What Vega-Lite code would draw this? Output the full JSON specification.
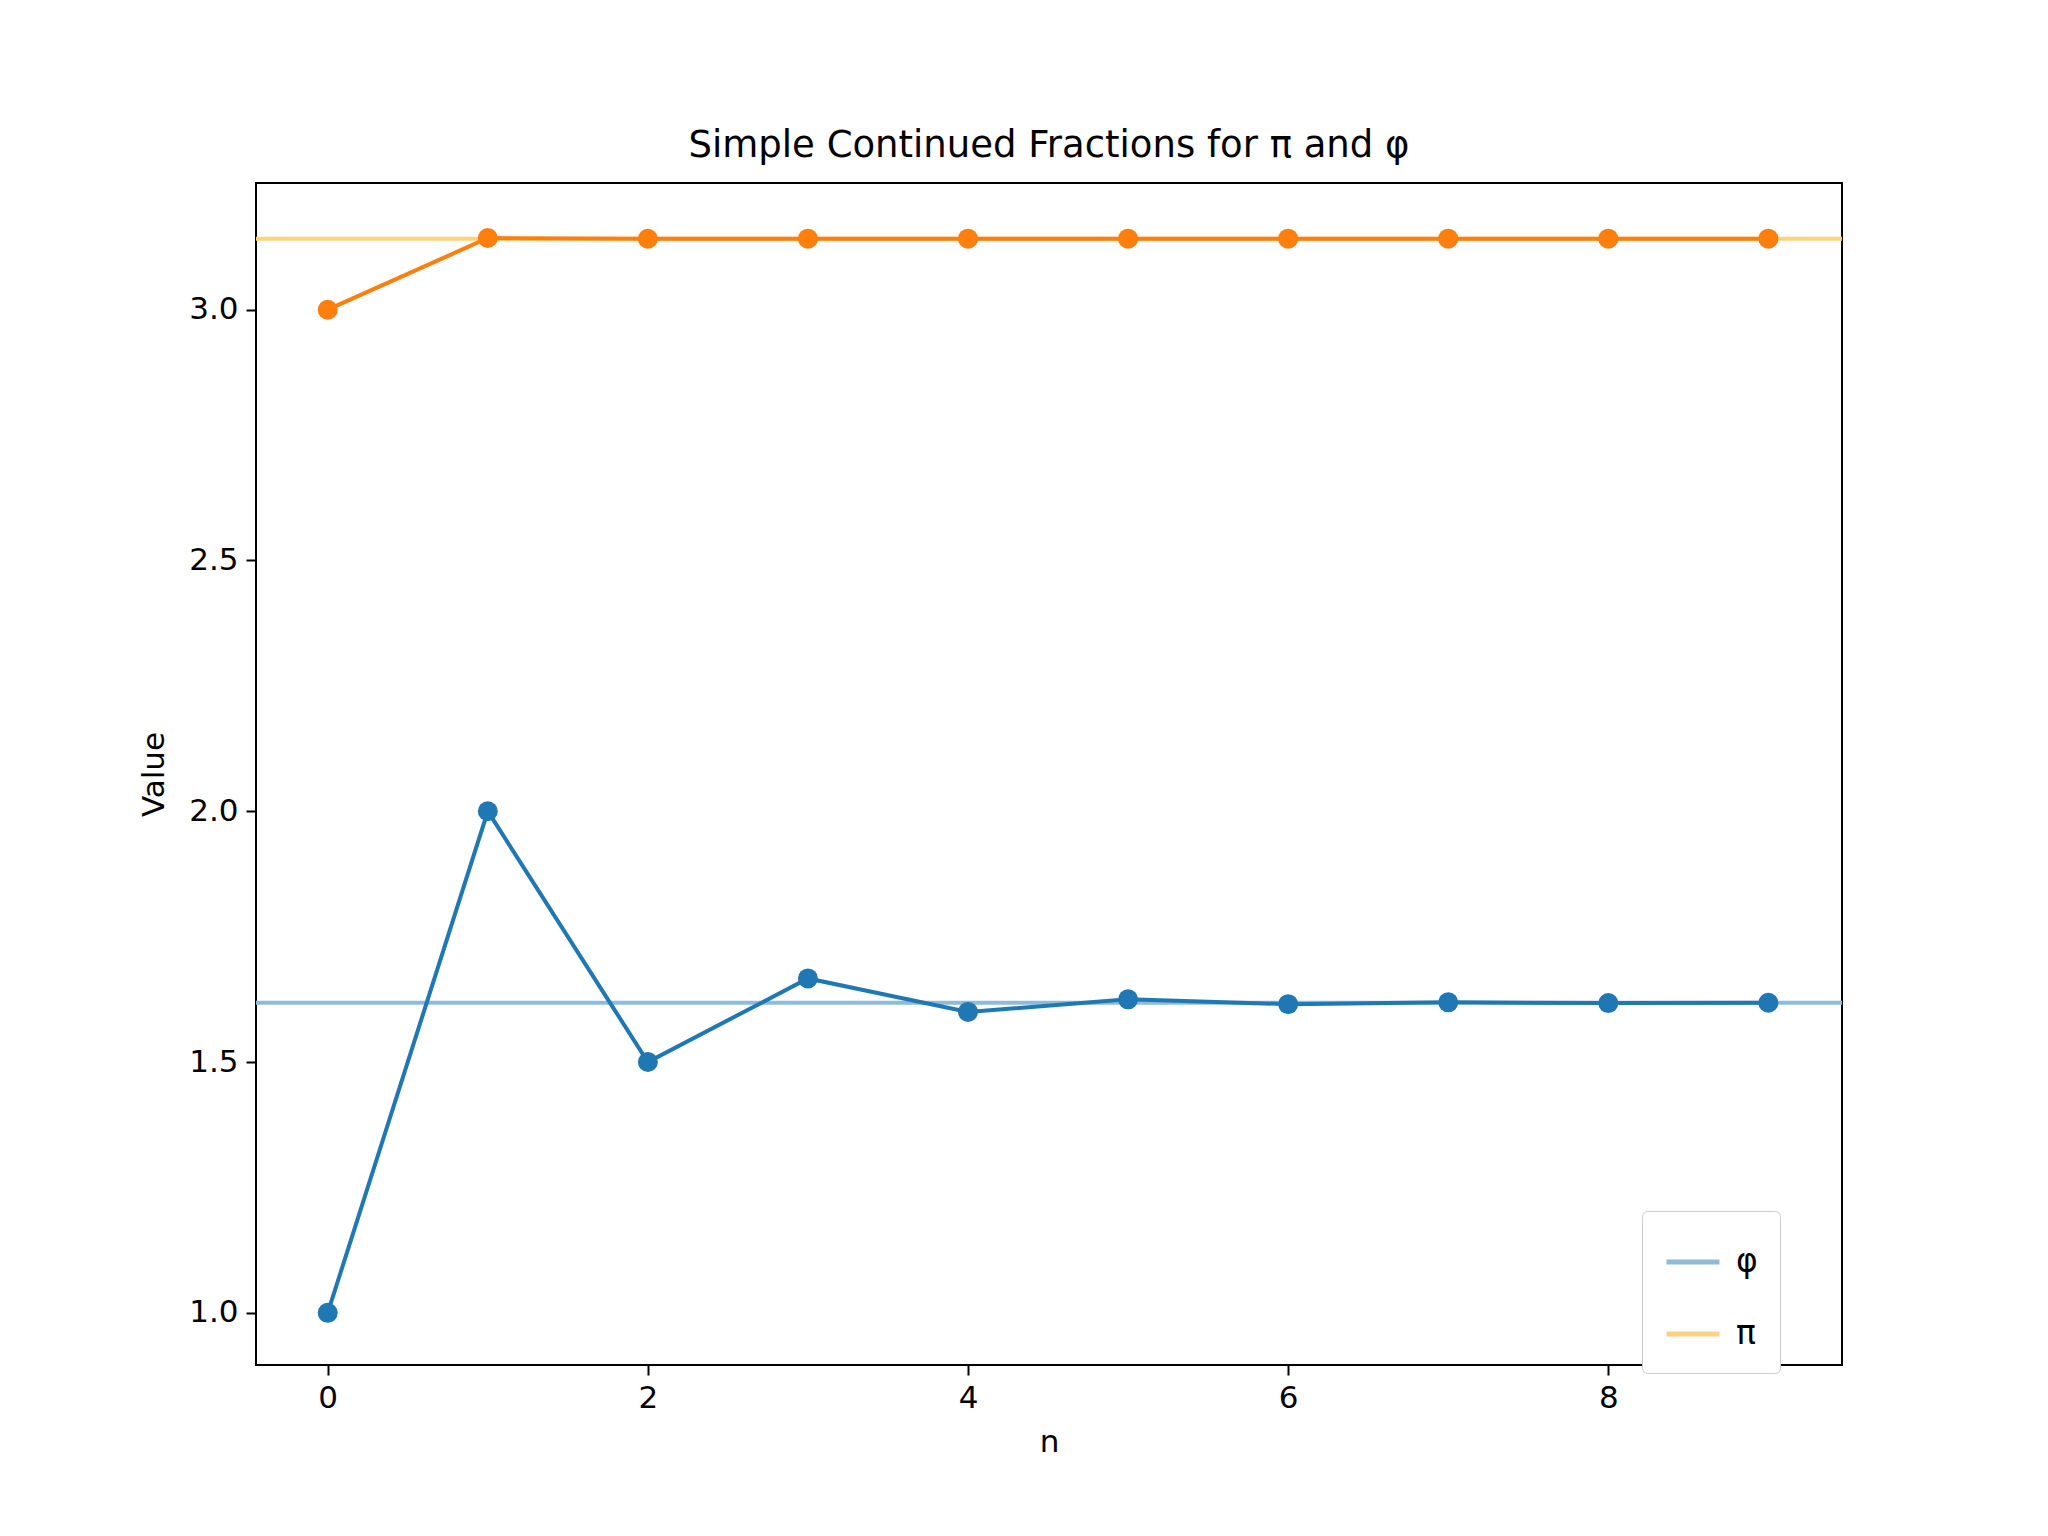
{
  "$schema": "https://vega.github.io/schema/vega-lite/v6.json",
  "autosize": "none",
  "padding": {"left": 256, "top": 183, "right": 206, "bottom": 171},
  "width": 1586,
  "height": 1182,
  "background": "white",
  "config": {
    "font": "DejaVu Sans",
    "view": {"stroke": "black", "strokeWidth": 2},
    "axis": {"grid": false, "domain": false, "tickColor": "black", "tickWidth": 2, "tickSize": 10, "labelFontSize": 31, "labelColor": "black", "titleFontSize": 31, "titleFontWeight": "normal", "titleColor": "black", "labelPadding": 8}
  },
  "title": {"text": "Simple Continued Fractions for π and φ", "fontSize": 37, "fontWeight": "normal", "color": "black", "offset": 18},
  "datasets": {
    "conv": [
      {"n": 0, "series": "phi", "value": 1},
      {"n": 1, "series": "phi", "value": 2},
      {"n": 2, "series": "phi", "value": 1.5},
      {"n": 3, "series": "phi", "value": 1.6667},
      {"n": 4, "series": "phi", "value": 1.6},
      {"n": 5, "series": "phi", "value": 1.625},
      {"n": 6, "series": "phi", "value": 1.6154},
      {"n": 7, "series": "phi", "value": 1.619},
      {"n": 8, "series": "phi", "value": 1.6176},
      {"n": 9, "series": "phi", "value": 1.6182},
      {"n": 0, "series": "pi", "value": 3},
      {"n": 1, "series": "pi", "value": 3.142857},
      {"n": 2, "series": "pi", "value": 3.141509},
      {"n": 3, "series": "pi", "value": 3.141593},
      {"n": 4, "series": "pi", "value": 3.141593},
      {"n": 5, "series": "pi", "value": 3.141593},
      {"n": 6, "series": "pi", "value": 3.141593},
      {"n": 7, "series": "pi", "value": 3.141593},
      {"n": 8, "series": "pi", "value": 3.141593},
      {"n": 9, "series": "pi", "value": 3.141593}
    ],
    "consts": [
      {"name": "φ", "value": 1.618034},
      {"name": "π", "value": 3.141593}
    ]
  },
  "layer": [
    {
      "data": {"name": "consts"},
      "mark": {"type": "rule", "strokeWidth": 4, "clip": true},
      "encoding": {
        "y": {"field": "value", "type": "quantitative", "scale": {"domain": [0.896, 3.2526], "nice": false, "zero": false}, "axis": {"values": [1, 1.5, 2, 2.5, 3], "format": ".1f", "title": "Value", "titlePadding": 18}},
        "color": {"field": "name", "type": "nominal", "scale": {"domain": ["φ", "π"], "range": ["#8fbbd9", "#ffd280"]},
          "legend": {"title": null, "orient": "none", "legendX": 1386, "legendY": 1028, "symbolType": "stroke", "symbolStrokeWidth": 5, "symbolSize": 2800, "labelFontSize": 33, "labelColor": "black", "labelOffset": 14, "rowPadding": 26, "padding": 22, "strokeColor": "#cccccc", "fillColor": "white", "cornerRadius": 5}}
      }
    },
    {
      "data": {"name": "conv"},
      "mark": {"type": "line", "strokeWidth": 4, "point": {"filled": true, "size": 400, "opacity": 1}},
      "encoding": {
        "x": {"field": "n", "type": "quantitative", "scale": {"domain": [-0.448, 9.46], "nice": false, "zero": false}, "axis": {"values": [0, 2, 4, 6, 8], "format": "d", "title": "n", "titlePadding": 14}},
        "y": {"field": "value", "type": "quantitative"},
        "detail": {"field": "series"},
        "color": {"field": "series", "type": "nominal", "scale": {"domain": ["phi", "pi"], "range": ["#1f77b4", "#ff7f0e"]}, "legend": null}
      }
    }
  ],
  "resolve": {"scale": {"color": "independent"}}
}
